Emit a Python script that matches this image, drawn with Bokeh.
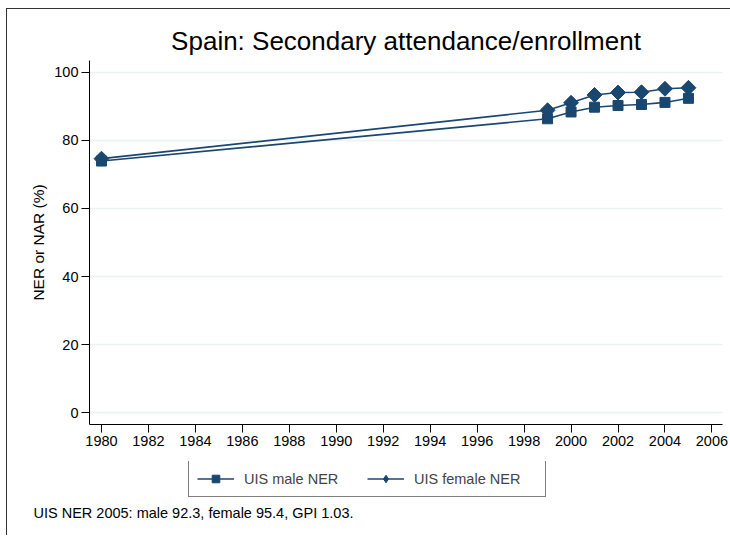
import math
from bokeh.plotting import figure
from bokeh.layouts import column
from bokeh.models import Range1d, Legend, LegendItem, FixedTicker, Label
from bokeh.embed import file_html
from bokeh.resources import INLINE

years_male = [1980, 1999, 2000, 2001, 2002, 2003, 2004, 2005]
male_ner = [73.9, 86.3, 88.3, 89.7, 90.2, 90.5, 91.1, 92.3]
years_female = [1980, 1999, 2000, 2001, 2002, 2003, 2004, 2005]
female_ner = [74.6, 88.8, 91.0, 93.3, 94.0, 94.1, 95.1, 95.4]
x_ticks = list(range(1980, 2007, 2))
y_ticks = [0, 20, 40, 60, 80, 100]
caption = "UIS NER 2005: male 92.3, female 95.4, GPI 1.03."

FONT = "Liberation Sans"
NAVY = "#1a476f"
DIAMOND = dict(marker="square", angle=math.pi / 4, size=10.5, fill_color=NAVY, line_color=NAVY)
SQUARE = dict(marker="square", size=10, fill_color=NAVY, line_color=NAVY)

p = figure(width=723, height=452, output_backend="svg", toolbar_location=None,
           x_range=Range1d(1979.49, 2006.45), y_range=Range1d(-3.4, 103.4),
           min_border_left=82, min_border_right=8, min_border_top=51, min_border_bottom=37)
p.outline_line_color = None
p.background_fill_color = "white"
p.border_fill_color = "white"

p.title.text = "Spain: Secondary attendance/enrollment"
p.title.text_font = FONT
p.title.text_font_size = "26px"
p.title.text_font_style = "normal"
p.title.align = "center"
p.title.text_color = "black"

p.xgrid.grid_line_color = None
p.ygrid.grid_line_color = "#eaf2f3"
p.ygrid.grid_line_width = 1.5

for ax in (p.xaxis[0], p.yaxis[0]):
    ax.axis_line_color = "black"
    ax.major_tick_line_color = "black"
    ax.major_tick_out = 8
    ax.major_tick_in = 0
    ax.minor_tick_line_color = None
    ax.major_label_text_font = FONT
    ax.major_label_text_font_size = "14.5px"
    ax.major_label_text_color = "black"
    ax.axis_label_text_font = FONT
    ax.axis_label_text_font_style = "normal"
    ax.axis_label_text_color = "black"
    ax.major_label_standoff = 3

p.xaxis.ticker = FixedTicker(ticks=x_ticks)
p.yaxis.ticker = FixedTicker(ticks=y_ticks)
p.yaxis.major_label_orientation = "horizontal"
p.yaxis.axis_label = "NER or NAR (%)"
p.yaxis.axis_label_text_font_size = "15.5px"
p.yaxis.axis_label_standoff = 4

p.line(years_male, male_ner, line_color=NAVY, line_width=1.6)
p.scatter(years_male, male_ner, **SQUARE)
p.line(years_female, female_ner, line_color=NAVY, line_width=1.6)
p.scatter(years_female, female_ner, **DIAMOND)

# Legend + caption strip (its own small plot; data lie outside its ranges)
q = figure(width=723, height=74, output_backend="svg", toolbar_location=None,
           x_axis_type=None, y_axis_type=None, min_border=0,
           x_range=Range1d(0, 1), y_range=Range1d(0, 1))
q.outline_line_color = None
q.grid.grid_line_color = None
q.border_fill_color = "white"
q.background_fill_color = "white"

frame_left = 89
if "frame_align" in q.properties():
    q.frame_align = False
    frame_left = 7

qlm = q.line(years_male, male_ner, line_color=NAVY, line_width=1.6)
qsm = q.scatter(years_male, male_ner, marker="square", size=10.5, fill_color=NAVY, line_color=NAVY)
qlf = q.line(years_female, female_ner, line_color=NAVY, line_width=1.6)
qsf = q.scatter(years_female, female_ner, marker="diamond", size=17, fill_color=NAVY, line_color=NAVY)

legend = Legend(items=[LegendItem(label="UIS male NER", renderers=[qlm, qsm]),
                       LegendItem(label="UIS female NER", renderers=[qlf, qsf])],
                orientation="horizontal", location=(188 - frame_left, 38),
                label_text_font=FONT, label_text_font_size="14.5px",
                glyph_width=37, glyph_height=19, label_standoff=10, spacing=0,
                label_width=123, padding=8, margin=0,
                border_line_color="black", border_line_width=1,
                background_fill_alpha=1.0)
q.add_layout(legend, "center")

q.add_layout(Label(x=33 - frame_left, y=23, x_units="screen", y_units="screen", text=caption,
                   text_font=FONT, text_font_size="14.5px", text_color="black",
                   text_baseline="middle"))

layout = column(p, q, spacing=0,
                styles={"border-top": "1px solid #333", "border-left": "1px solid #333",
                        "margin-left": "6px", "margin-top": "8px"})

open("out.html", "w").write(file_html(layout, INLINE))
